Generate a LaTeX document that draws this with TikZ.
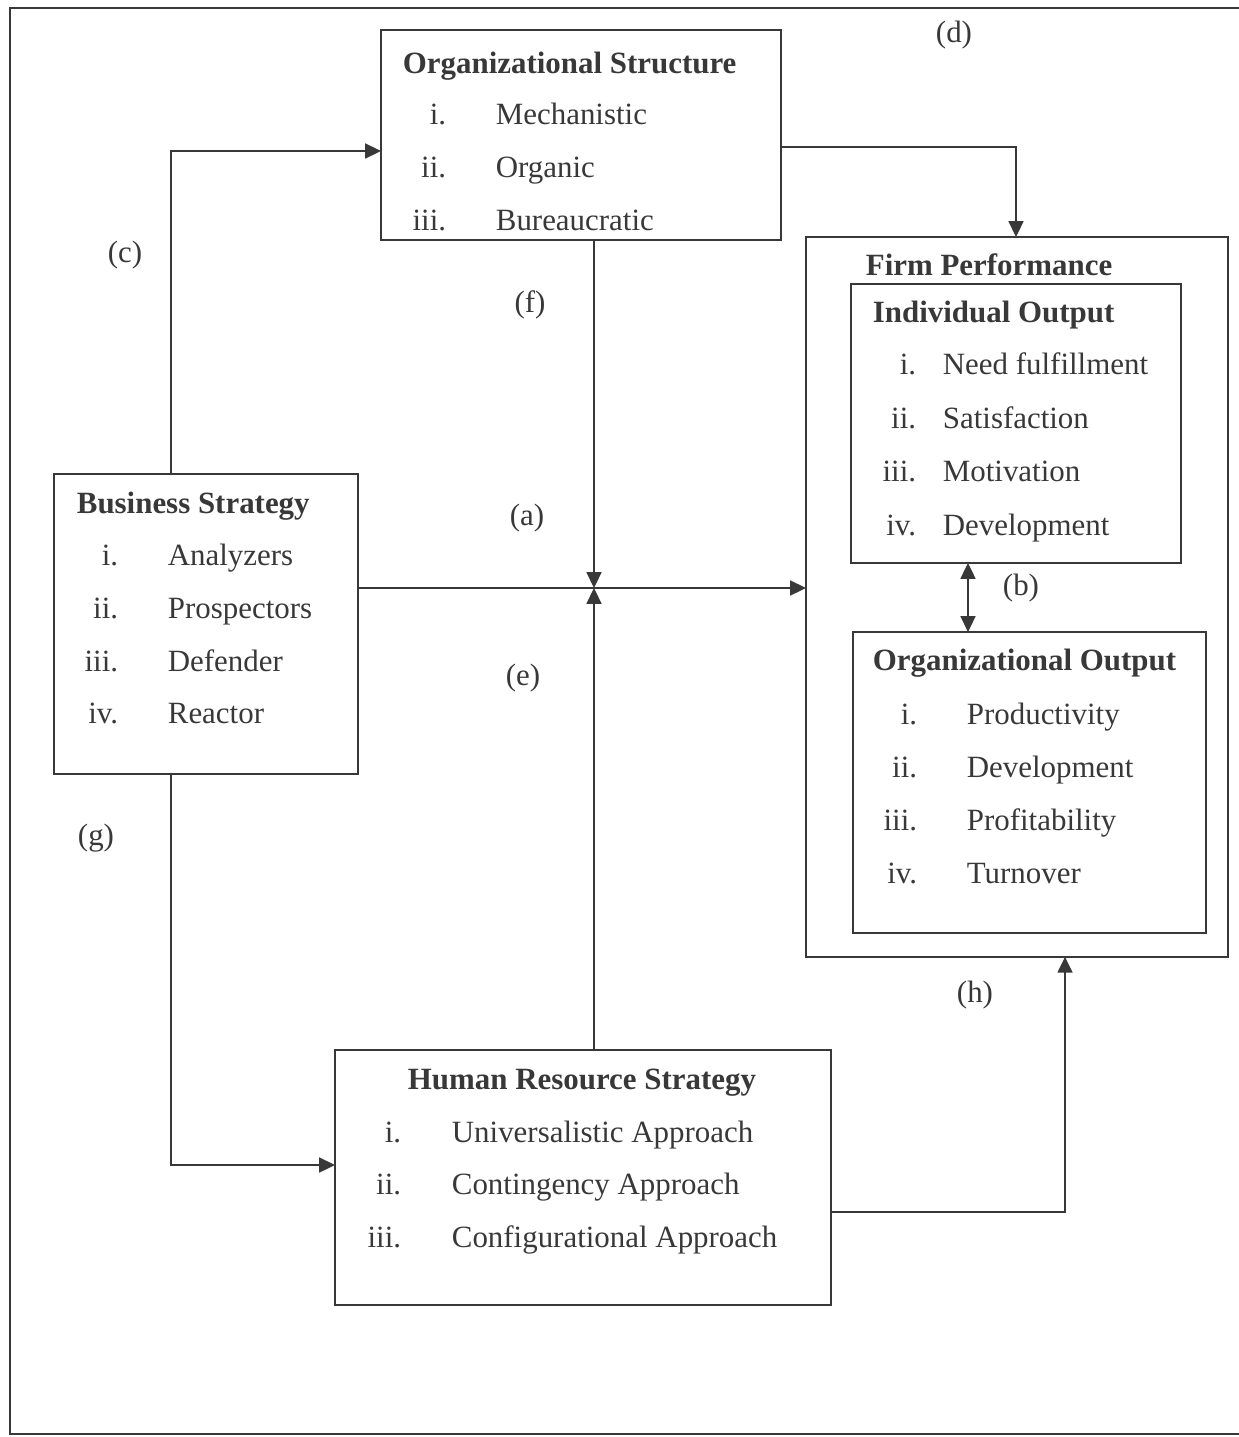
\documentclass[tikz,border=0pt]{standalone}
\usepackage{fontspec}
\setmainfont{Liberation Serif}
\usepackage{tikz}
\usetikzlibrary{positioning, arrows.meta}
\definecolor{ink}{gray}{0.22}

\begin{document}
\begin{tikzpicture}[x=0.02cm, y=-0.02cm, line width=1pt, draw=ink, text=ink,
  font=\fontsize{17.6}{21}\selectfont,
  box/.style = {draw=ink, line width=1pt, anchor=north west, inner sep=0pt, outer sep=0pt},
  ttl/.style = {anchor=base west, inner sep=0pt, font=\fontsize{17.6}{21}\selectfont\bfseries},
  num/.style = {anchor=base east, inner sep=0pt},
  itm/.style = {anchor=base west, inner sep=0pt},
  lbl/.style = {inner sep=0pt},
  arr/.style = {draw=ink, -{Triangle[length=9pt, width=8.5pt]}}]
\useasboundingbox (0,0) rectangle (1239,1437);
\draw[ink] (1239,8) -- (10,8) -- (10,1434) -- (1239,1434);

% boxes
\node[box] (os) [minimum width=8cm, minimum height=4.2cm] at (381,30) {};
\node[box] (fp) [minimum width=8.44cm, minimum height=14.4cm] at (806,237) {};
\node[box] (io) [minimum width=6.6cm, minimum height=5.58cm] at (851,284) {};
\node[box] (oo) [minimum width=7.06cm, minimum height=6.02cm] at (853,632) {};
\node[box] (bs) [minimum width=6.08cm, minimum height=6cm] at (54,474) {};
\node[box] (hr) [minimum width=9.92cm, minimum height=5.1cm] at (335,1050) {};

% titles
\node[ttl] (ost) at (402,73) {Organizational Structure};
\node[ttl] (fpt) at (865,275) {Firm Performance};
\node[ttl] (iot) at (872,322) {Individual Output};
\node[ttl] (oot) at (872,670) {Organizational Output};
\node[ttl] (bst) at (76,513) {Business Strategy};
\node[ttl] (hrt) at (407,1089) {Human Resource Strategy};

% lists
\foreach \n/\t [count=\k] in {i./Mechanistic, ii./Organic, iii./Bureaucratic} {
  \node[num] (os\k n) at (447,71+53*\k) {\n};
  \node[itm] (os\k) at (495,71+53*\k) {\t};
}
\foreach \n/\t [count=\k] in {i./Need fulfillment, ii./Satisfaction, iii./Motivation, iv./Development} {
  \node[num] (io\k n) at (917,321+53.5*\k) {\n};
  \node[itm] (io\k) at (942,321+53.5*\k) {\t};
}
\foreach \n/\t [count=\k] in {i./Productivity, ii./Development, iii./Profitability, iv./Turnover} {
  \node[num] (oo\k n) at (918,671+53*\k) {\n};
  \node[itm] (oo\k) at (966,671+53*\k) {\t};
}
\foreach \n/\t [count=\k] in {i./Analyzers, ii./Prospectors, iii./Defender, iv./Reactor} {
  \node[num] (bs\k n) at (119,513+52.7*\k) {\n};
  \node[itm] (bs\k) at (167,513+52.7*\k) {\t};
}
\foreach \n/\t [count=\k] in {i./Universalistic Approach, ii./Contingency Approach, iii./Configurational Approach} {
  \node[num] (hr\k n) at (402,1089.5+52.5*\k) {\n};
  \node[itm] (hr\k) at (451,1089.5+52.5*\k) {\t};
}

% bends and junction
\coordinate (jn) at (594,588);
\coordinate (c1) at (171,151);
\coordinate (g1) at (171,1165);
\coordinate (d1) at (1016,147);
\coordinate (h1) at (1065,1212);
\coordinate (b1) at (968,0);

\draw[arr] (bs.east |- jn) -- (fp.west |- jn);
\draw[arr] (jn |- os.south) -- (jn);
\draw[arr] (jn |- hr.north) -- (jn);
\draw[arr] (c1 |- bs.north) -- (c1) -- (c1 -| os.west);
\draw[arr] (g1 |- bs.south) -- (g1) -- (g1 -| hr.west);
\draw[arr] (d1 -| os.east) -- (d1) -- (d1 |- fp.north);
\draw[arr] (h1 -| hr.east) -- (h1) -- (h1 |- fp.south);
\draw[draw=ink, {Triangle[length=9pt, width=8.5pt]}-{Triangle[length=9pt, width=8.5pt]}] (b1 |- io.south) -- (b1 |- oo.north);

% labels
\node[lbl] (la) at (527,518) {(a)};
\node[lbl] (lb) at (1021,588) {(b)};
\node[lbl] (lc) at (125,255) {(c)};
\node[lbl] (ld) at (954,35) {(d)};
\node[lbl] (le) at (523,678) {(e)};
\node[lbl] (lf) at (530,305) {(f)};
\node[lbl] (lg) at (96,838) {(g)};
\node[lbl] (lh) at (975,995) {(h)};
\end{tikzpicture}
\end{document}
